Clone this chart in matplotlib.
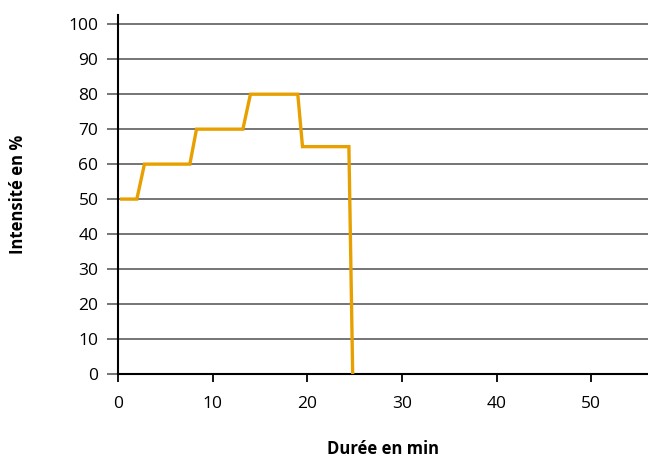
import matplotlib
matplotlib.use("Agg")
import matplotlib.pyplot as plt

# step profile: duration (min) vs intensity (%)
duree = [0.4, 2.0, 2.8, 7.6, 8.3, 13.2, 14.0, 19.0, 19.5, 24.4, 24.8]
intensite = [50, 50, 60, 60, 70, 70, 80, 80, 65, 65, 0]

x_ticks = [0, 10, 20, 30, 40, 50]
y_ticks = [0, 10, 20, 30, 40, 50, 60, 70, 80, 90, 100]

plt.rcParams['font.family'] = ['Open Sans', 'DejaVu Sans']

fig = plt.figure(figsize=(6.48, 4.61), dpi=100)
ax = fig.add_axes([0.182, 0.189, 0.818, 0.778])

ax.plot(duree, intensite, color='#E8A000', linewidth=2.4, solid_joinstyle='miter', zorder=3)

ax.set_xlim(0, 56)
ax.set_ylim(0, 102.6)
ax.set_xticks(x_ticks)
ax.set_yticks(y_ticks)
ax.yaxis.grid(True, color='#505050', linewidth=1.1)
ax.set_axisbelow(True)

for s in ['top', 'right']:
    ax.spines[s].set_visible(False)
for s in ['left', 'bottom']:
    ax.spines[s].set_linewidth(1.5)
    ax.spines[s].set_color('black')

ax.tick_params(axis='y', direction='out', length=8, width=1.1, color='#505050', labelsize=12.5, pad=6)
ax.tick_params(axis='x', direction='out', length=6, width=1.3, color='black', labelsize=12.5, pad=10)

ax.set_xlabel('Durée en min', fontsize=12, fontweight='bold', labelpad=20)
ax.set_ylabel('Intensité en %', fontsize=12, fontweight='bold', labelpad=30)

fig.savefig('out.png', dpi=100)
